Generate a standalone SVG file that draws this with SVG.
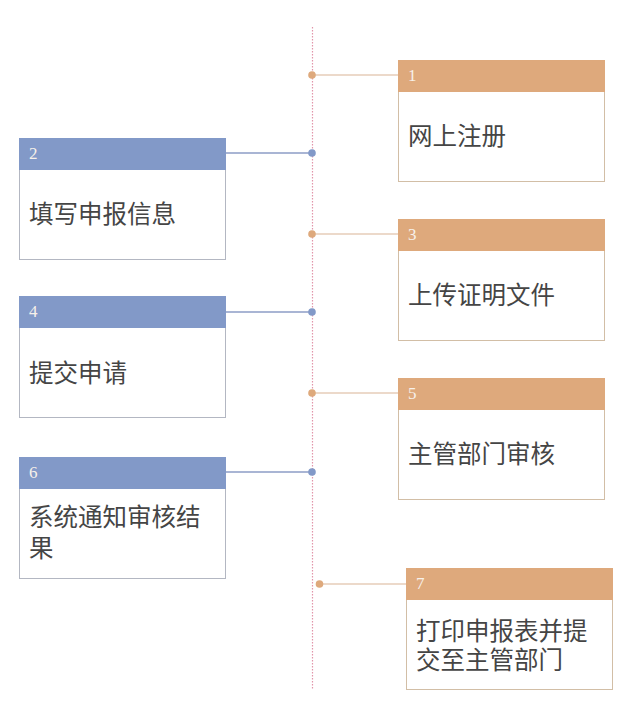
<svg xmlns="http://www.w3.org/2000/svg" width="640" height="717" viewBox="0 0 640 717">
<style>
.t{font-family:"Noto Sans CJK SC","Noto Sans",sans-serif;font-size:24.5px;fill:#454545}
.n{font-family:"Liberation Serif","DejaVu Serif",serif;font-size:17px;fill:#f7f1ea}
.ob{fill:#fff;stroke:#d2bea6;stroke-width:1}
.bb{fill:#fff;stroke:#b3b7c2;stroke-width:1}
.oh{fill:#dea97c}
.bh{fill:#8299c8}
.ol{stroke:#e6cdb8;stroke-width:1.3;fill:none}
.bl{stroke:#8c9dc6;stroke-width:1.3;fill:none}
.od{fill:#dea97c}
.bd{fill:#8299c8}
</style>
<rect width="640" height="717" fill="#fff"/>
<g id="connectors">
<line x1="312.5" y1="27" x2="312.5" y2="690" stroke="#e295aa" stroke-width="1.2" stroke-dasharray="1.5,1.5"/>
<line class="ol" x1="312" y1="75" x2="398" y2="75"/><circle class="od" cx="312" cy="75" r="3.8"/>
<line class="bl" x1="226" y1="153" x2="312" y2="153"/><circle class="bd" cx="312" cy="153" r="3.8"/>
<line class="ol" x1="312" y1="234" x2="398" y2="234"/><circle class="od" cx="312" cy="234" r="3.8"/>
<line class="bl" x1="226" y1="312" x2="312" y2="312"/><circle class="bd" cx="312" cy="312" r="3.8"/>
<line class="ol" x1="312" y1="393" x2="398" y2="393"/><circle class="od" cx="312" cy="393" r="3.8"/>
<line class="bl" x1="226" y1="472" x2="312" y2="472"/><circle class="bd" cx="312" cy="472" r="3.8"/>
<line class="ol" x1="319" y1="584" x2="406" y2="584"/><circle class="od" cx="319.5" cy="584" r="3.8"/>
</g>
<g id="node1">
<rect class="ob" x="398.5" y="60.5" width="206" height="121"/><rect class="oh" x="398" y="60" width="207" height="32"/>
<text class="n" x="408" y="81">1</text>
<text class="t" x="408" y="145">网上注册</text>
</g>
<g id="node2">
<rect class="bb" x="19.5" y="138.5" width="206" height="121"/><rect class="bh" x="19" y="138" width="207" height="32"/>
<text class="n" x="29" y="159">2</text>
<text class="t" x="29" y="223">填写申报信息</text>
</g>
<g id="node3">
<rect class="ob" x="398.5" y="219.5" width="206" height="121"/><rect class="oh" x="398" y="219" width="207" height="32"/>
<text class="n" x="408" y="240">3</text>
<text class="t" x="408" y="304">上传证明文件</text>
</g>
<g id="node4">
<rect class="bb" x="19.5" y="296.5" width="206" height="121"/><rect class="bh" x="19" y="296" width="207" height="32"/>
<text class="n" x="29" y="317">4</text>
<text class="t" x="29" y="382">提交申请</text>
</g>
<g id="node5">
<rect class="ob" x="398.5" y="378.5" width="206" height="121"/><rect class="oh" x="398" y="378" width="207" height="32"/>
<text class="n" x="408" y="399">5</text>
<text class="t" x="408" y="463">主管部门审核</text>
</g>
<g id="node6">
<rect class="bb" x="19.5" y="457.5" width="206" height="121"/><rect class="bh" x="19" y="457" width="207" height="32"/>
<text class="n" x="29" y="478">6</text>
<text class="t" x="29" y="526">系统通知审核结<tspan x="29" dy="31">果</tspan></text>
</g>
<g id="node7">
<rect class="ob" x="406.5" y="568.5" width="206" height="121"/><rect class="oh" x="406" y="568" width="207" height="32"/>
<text class="n" x="416" y="589">7</text>
<text class="t" x="416" y="640">打印申报表并提<tspan x="416" dy="29">交至主管部门</tspan></text>
</g>
</svg>
